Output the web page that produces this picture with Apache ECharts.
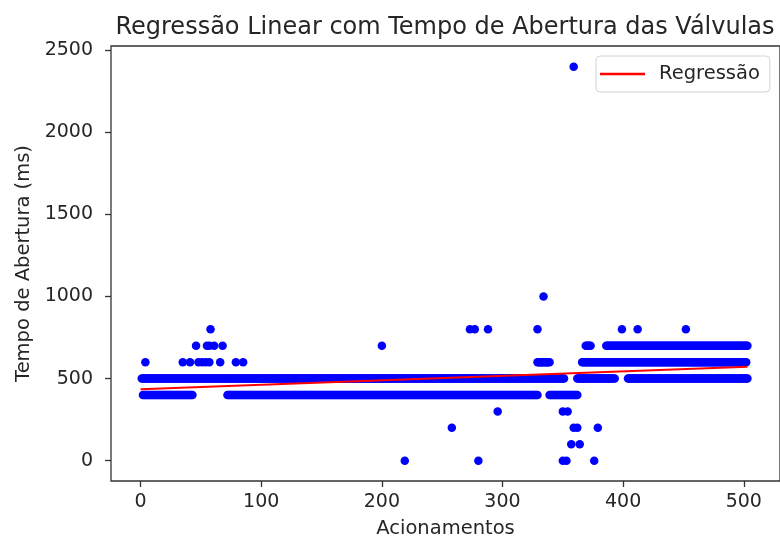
<!DOCTYPE html>
<html><head><meta charset="utf-8">
<script src="https://cdn.jsdelivr.net/npm/echarts@6/dist/echarts.min.js"></script>
<style>html,body{margin:0;padding:0;background:#fff}#c{width:780px;height:544px}</style>
</head><body><div id="c"></div>
<script>
const titleText = 'Regressão Linear com Tempo de Abertura das Válvulas';
const xName = 'Acionamentos';
const yName = 'Tempo de Abertura (ms)';
const xTicks = [0, 100, 200, 300, 400, 500];
const yTicks = [0, 500, 1000, 1500, 2000, 2500];

// runs of consecutive actuations [from, to] observed at each level (ms)
const runs400 = [[2, 43], [72, 329], [339, 362]];
const runs500 = [[1, 351], [362, 393], [404, 503]];
const runs600 = [[329, 339], [366, 502]];
const runs700 = [[369, 373], [386, 503]];

// isolated readings [actuation, ms]
const pts600 = [[4, 600], [35, 600], [41, 600], [48, 600], [51, 600], [54, 600], [57, 600], [66, 600], [79, 600], [85, 600]];
const pts700 = [[46, 700], [55, 700], [57, 700], [61, 700], [68, 700], [200, 700]];
const pts800 = [[58, 800], [273, 800], [277, 800], [288, 800], [329, 800], [399, 800], [412, 800], [452, 800]];
const ptsHigh = [[334, 1000], [359, 2400]];
const ptsLow = [[296, 300], [350, 300], [354, 300],
                [258, 200], [359, 200], [362, 200], [379, 200],
                [357, 100], [364, 100],
                [219, 0], [280, 0], [350, 0], [353, 0], [376, 0]];

// fitted regression line end points [actuation, ms]
const regression = [[0, 435], [503, 572]];

const FONT = 'DejaVu Sans';
const INK = '#262626';

function expand(runs, level) {
  const out = [];
  runs.forEach(([a, b]) => { for (let x = a; x <= b; x++) out.push([x, level]); });
  return out;
}
const scatterData = [].concat(
  expand(runs400, 400), expand(runs500, 500), expand(runs600, 600), expand(runs700, 700),
  pts600, pts700, pts800, ptsHigh, ptsLow
);

const chart = echarts.init(document.getElementById('c'), null, {renderer: 'canvas'});
chart.setOption({
  animation: false,
  backgroundColor: '#fff',
  title: {
    text: titleText, left: 440, top: 11, textAlign: 'center',
    textStyle: {fontFamily: FONT, fontSize: 24, fontWeight: 'normal', color: INK}
  },
  legend: {
    data: [{name: 'Regressão', icon: 'rect'}], left: 596, top: 56,
    padding: [8, 10, 8, 4], itemWidth: 45, itemHeight: 2.5,
    borderColor: '#d4d4d4', borderWidth: 1, borderRadius: 4,
    backgroundColor: 'rgba(255,255,255,0.8)',
    itemStyle: {color: '#ff0000'},
    textStyle: {fontFamily: FONT, fontSize: 19.5, color: INK, padding: [0, 0, 0, 9], lineHeight: 20}
  },
  grid: {left: 111, top: 46, right: -2, bottom: 61, show: true, borderColor: '#333', borderWidth: 1.3, containLabel: false},
  xAxis: {
    type: 'value', min: -24.5, max: 530,
    name: xName, nameLocation: 'middle', nameGap: 38,
    nameTextStyle: {fontFamily: FONT, fontSize: 19.5, color: INK},
    axisLine: {show: false, onZero: false},
    axisTick: {show: true, customValues: xTicks, length: 6, lineStyle: {color: '#333', width: 1.3}},
    axisLabel: {customValues: xTicks, margin: 12, fontFamily: FONT, fontSize: 19, color: INK,
      formatter: v => String(v)},
    splitLine: {show: false}
  },
  yAxis: {
    type: 'value', min: -124, max: 2526,
    name: yName, nameLocation: 'middle', nameGap: 75,
    nameTextStyle: {fontFamily: FONT, fontSize: 19.5, color: INK},
    axisLine: {show: false, onZero: false},
    axisTick: {show: true, customValues: yTicks, length: 6, lineStyle: {color: '#333', width: 1.3}},
    axisLabel: {customValues: yTicks, margin: 18, fontFamily: FONT, fontSize: 19, color: INK,
      formatter: v => String(v)},
    splitLine: {show: false}
  },
  series: [
    {
      name: 'Tempo', type: 'scatter', data: scatterData, symbolSize: 8.5,
      itemStyle: {color: '#0000ff', opacity: 1}, z: 2
    },
    {
      name: 'Regressão', type: 'line', data: regression, symbol: 'none', showSymbol: false,
      lineStyle: {color: '#ff0000', width: 2.2}, itemStyle: {color: '#ff0000'}, z: 3
    }
  ]
});
</script>
</body></html>
